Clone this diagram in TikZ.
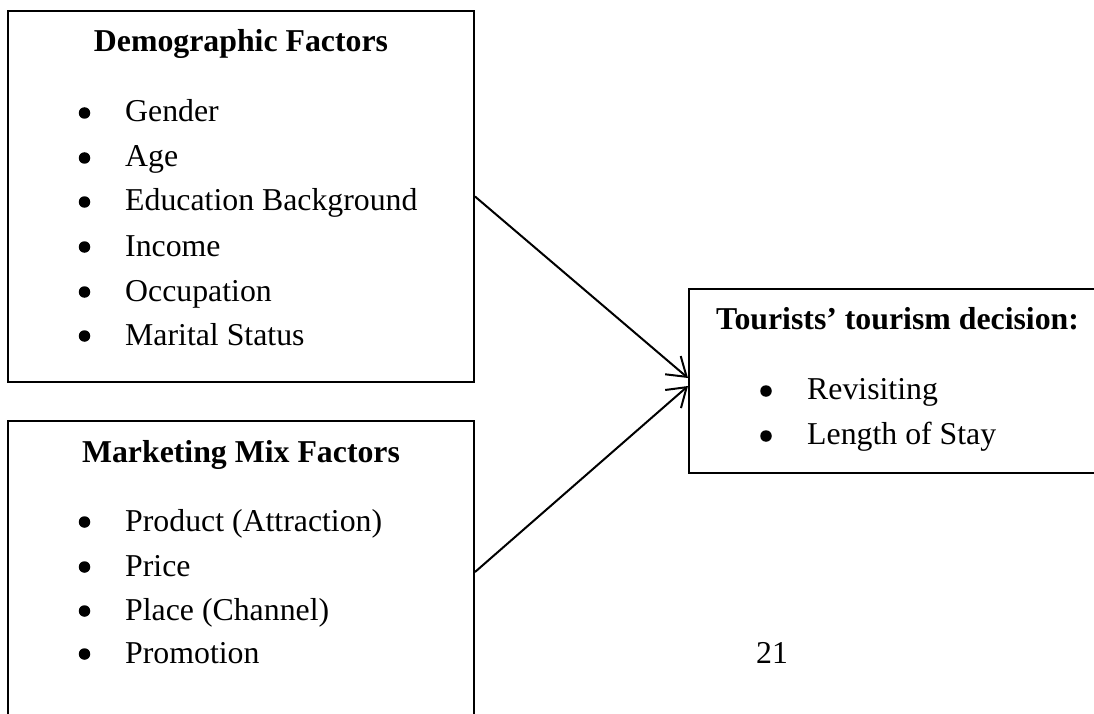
\documentclass[tikz,border=0pt]{standalone}
\usepackage{fontspec}
\setmainfont{Liberation Serif}
\usetikzlibrary{arrows.meta}
\begin{document}
\begin{tikzpicture}[x=1pt,y=-1pt,
  box/.style={draw, line width=2pt, rectangle, inner sep=0pt},
  ttl/.style={anchor=base, inner sep=0pt, font=\fontsize{31.8}{38}\selectfont\bfseries},
  itm/.style={anchor=base west, inner sep=0pt, font=\fontsize{31.8}{38}\selectfont},
  num/.style={anchor=base, inner sep=0pt, font=\fontsize{31.8}{38}\selectfont},
  dot/.style={circle, fill=black, inner sep=0pt, minimum size=11.5pt},
  arr/.style={-{Straight Barb[length=18pt,width=24pt,line width=2pt]}, line width=2pt}]
\useasboundingbox (0,0) rectangle (1094,714);
% boxes
\node[box, minimum width=466pt, minimum height=371pt] (demo) at (241,196.5) {};
\node[box, minimum width=466pt, minimum height=302pt] (mkt) at (241,572) {};
\node[box, minimum width=451pt, minimum height=184pt] (dec) at (914.5,381) {};
% demographic
\node[ttl] (demotitle) at (241,52) {Demographic Factors};
\foreach \t/\y/\n in {Gender/122/1, Age/167/2, Education Background/211/3, Income/256/4, Occupation/301/5, Marital Status/345/6}{
  \node[dot] (db\n) at (84.5,\y-9) {};
  \node[itm] (dt\n) at (125,\y) {\t};
}
% marketing
\node[ttl] (mkttitle) at (241,462) {Marketing Mix Factors};
\foreach \t/\y/\n in {Product (Attraction)/531/1, Price/576/2, Place (Channel)/620/3, Promotion/663/4}{
  \node[dot] (mb\n) at (84.5,\y-9) {};
  \node[itm] (mt\n) at (125,\y) {\t};
}
% decision
\node[ttl, anchor=base west] (dectitle) at (716,329) {Tourists’ tourism decision:};
\node[dot] (xb1) at (766,391) {};
\node[itm] (xt1) at (807,399) {Revisiting};
\node[dot] (xb2) at (766,436) {};
\node[itm] (xt2) at (807,444) {Length of Stay};
% page number
\node[num] (pnum) at (772,663) {21};
% arrows
\draw[arr] (demo.east) -- ([yshift=3pt]dec.west);
\draw[arr] (mkt.east) -- ([yshift=-5pt]dec.west);
\end{tikzpicture}
\end{document}
